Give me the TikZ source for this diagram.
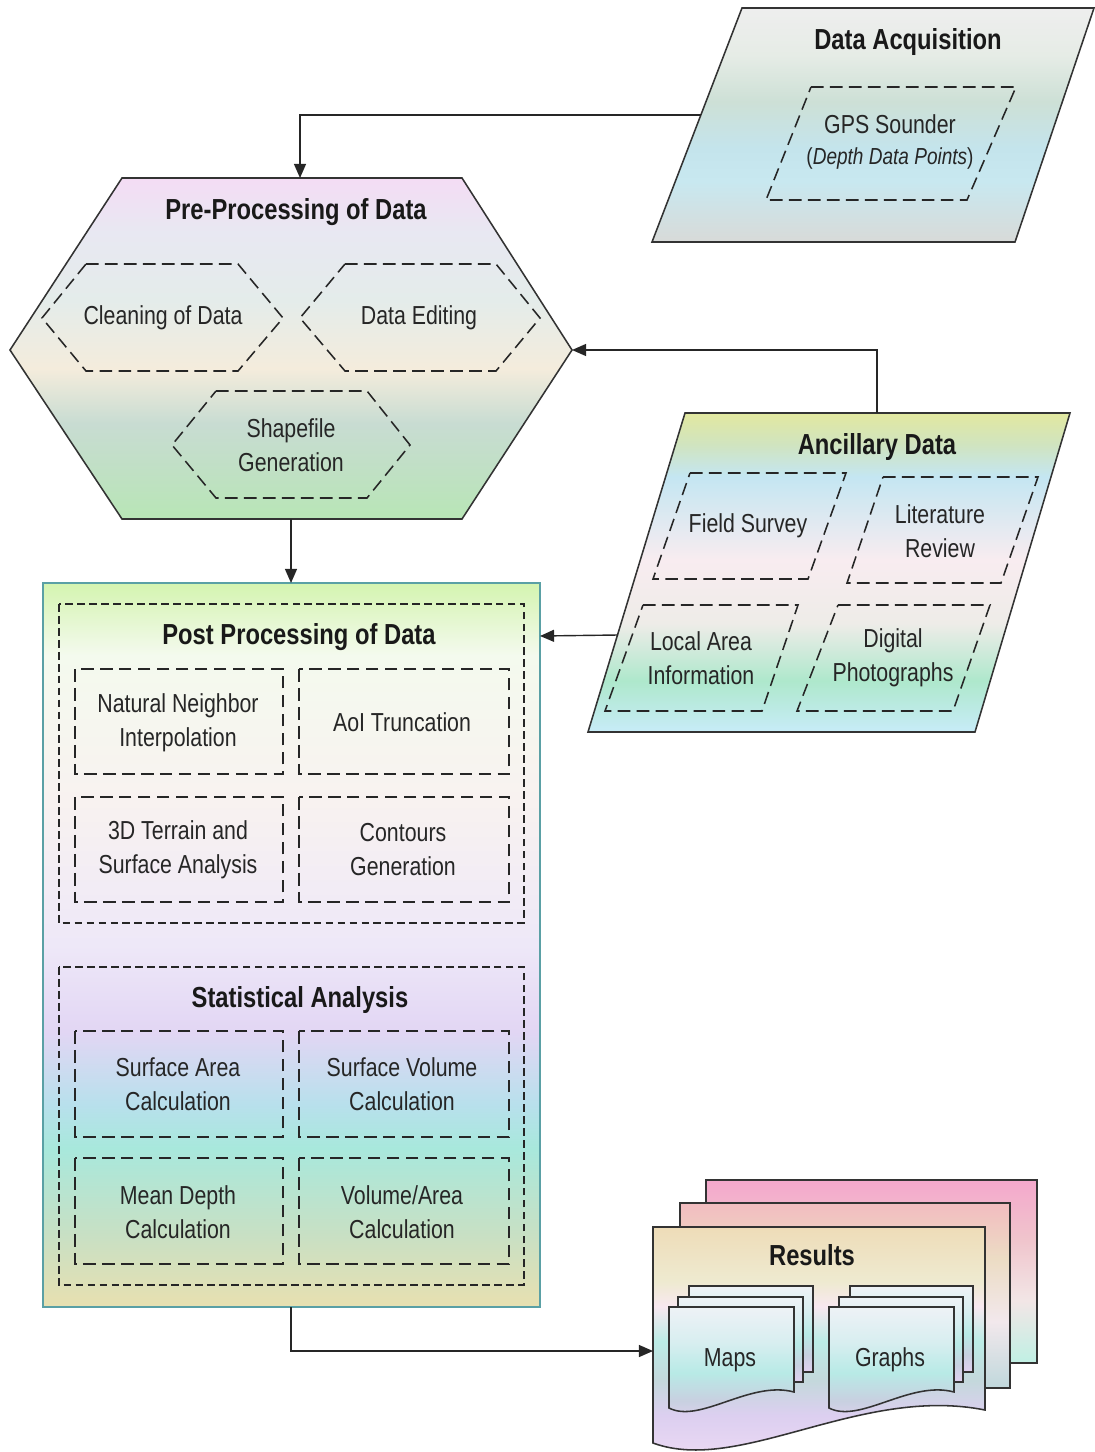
\documentclass[tikz,border=0pt]{standalone}
\usepackage{fontspec}
\setmainfont{Liberation Sans}[FakeStretch=0.82]
\usetikzlibrary{arrows.meta}

% colours of the shaded shapes
\definecolor{acqA}{HTML}{D8DAD8}
\definecolor{acqB}{HTML}{C8E8F0}
\definecolor{acqC}{HTML}{C4E4EC}
\definecolor{acqD}{HTML}{CDE0D6}
\definecolor{acqE}{HTML}{E6ECE6}
\definecolor{acqF}{HTML}{EEEEEE}
\definecolor{preA}{HTML}{B8E6B6}
\definecolor{preB}{HTML}{C0E0C4}
\definecolor{preC}{HTML}{C8DCD2}
\definecolor{preD}{HTML}{F4ECDC}
\definecolor{preE}{HTML}{E4ECEA}
\definecolor{preF}{HTML}{E8E8F2}
\definecolor{preG}{HTML}{F4DCF4}
\definecolor{ancA}{HTML}{C8ECF8}
\definecolor{ancB}{HTML}{AEE8CC}
\definecolor{ancC}{HTML}{EEECE8}
\definecolor{ancD}{HTML}{F8ECF0}
\definecolor{ancE}{HTML}{C4E6F2}
\definecolor{ancF}{HTML}{D0E4C0}
\definecolor{ancG}{HTML}{E2E8A0}
\definecolor{postA}{HTML}{E8E0B0}
\definecolor{postB}{HTML}{C8E0C4}
\definecolor{postC}{HTML}{A8E8DC}
\definecolor{postD}{HTML}{B8E0EC}
\definecolor{postE}{HTML}{E2D6F4}
\definecolor{postF}{HTML}{EEE8F8}
\definecolor{postG}{HTML}{F8F2F0}
\definecolor{postH}{HTML}{F4FAEE}
\definecolor{postI}{HTML}{D4F4B0}
\definecolor{postline}{HTML}{5AA0A5}
\definecolor{backA}{HTML}{C0F0E4}
\definecolor{backB}{HTML}{F2E6E6}
\definecolor{backC}{HTML}{F0C4CC}
\definecolor{backD}{HTML}{F4A8CC}
\definecolor{midA}{HTML}{C0D8DC}
\definecolor{midB}{HTML}{F2E8EC}
\definecolor{midC}{HTML}{ECDCC4}
\definecolor{midD}{HTML}{F2BCC0}
\definecolor{resA}{HTML}{F0DCF4}
\definecolor{resB}{HTML}{DCCFF0}
\definecolor{resC}{HTML}{C4D8DC}
\definecolor{resD}{HTML}{BCECE6}
\definecolor{resE}{HTML}{F8E8F0}
\definecolor{resF}{HTML}{EEEAD0}
\definecolor{resG}{HTML}{EEDCB8}
\definecolor{docA}{HTML}{E0D0F0}
\definecolor{docB}{HTML}{C8D0E0}
\definecolor{docC}{HTML}{B8EAE6}
\definecolor{docD}{HTML}{D8EEF0}
\definecolor{docE}{HTML}{EEF2F6}

\pgfdeclareverticalshading{acqshade}{100bp}{color(0bp)=(acqA); color(25bp)=(acqA);
  color(38bp)=(acqB); color(45bp)=(acqC); color(55bp)=(acqD); color(65bp)=(acqE);
  color(75bp)=(acqF); color(100bp)=(acqF)}
\pgfdeclareverticalshading{preshade}{100bp}{color(0bp)=(preA); color(25bp)=(preA);
  color(32bp)=(preB); color(39bp)=(preC); color(47bp)=(preD); color(57bp)=(preE);
  color(67bp)=(preF); color(75bp)=(preG); color(100bp)=(preG)}
\pgfdeclareverticalshading{ancshade}{100bp}{color(0bp)=(ancA); color(25bp)=(ancA);
  color(33bp)=(ancB); color(42bp)=(ancC); color(52bp)=(ancD); color(65bp)=(ancE);
  color(70bp)=(ancF); color(75bp)=(ancG); color(100bp)=(ancG)}
\pgfdeclareverticalshading{postshade}{100bp}{color(0bp)=(postA); color(25bp)=(postA);
  color(30bp)=(postB); color(36bp)=(postC); color(39bp)=(postD); color(44bp)=(postE);
  color(50bp)=(postF); color(60bp)=(postG); color(70bp)=(postH); color(75bp)=(postI);
  color(100bp)=(postI)}
\pgfdeclareverticalshading{backshade}{100bp}{color(0bp)=(backA); color(25bp)=(backA);
  color(42bp)=(backB); color(59bp)=(backC); color(75bp)=(backD); color(100bp)=(backD)}
\pgfdeclareverticalshading{midshade}{100bp}{color(0bp)=(midA); color(25bp)=(midA);
  color(43bp)=(midB); color(60bp)=(midC); color(75bp)=(midD); color(100bp)=(midD)}
\pgfdeclareverticalshading{resshade}{100bp}{color(0bp)=(resA); color(26bp)=(resA);
  color(37bp)=(resB); color(44bp)=(resC); color(52bp)=(resD); color(59bp)=(resE);
  color(64bp)=(resF); color(75bp)=(resG); color(100bp)=(resG)}
\pgfdeclareverticalshading{docshade}{100bp}{color(0bp)=(docA); color(25bp)=(docA);
  color(35bp)=(docB); color(47bp)=(docC); color(60bp)=(docD); color(75bp)=(docE);
  color(100bp)=(docE)}

\begin{document}
\begin{tikzpicture}[x=0.025cm, y=0.025cm,
    frame/.style={draw=black!80, line width=1.1pt},
    dashbox/.style={draw=black!85, line width=1.1pt, dash pattern=on 9pt off 4.5pt},
    finedash/.style={draw=black!85, line width=0.9pt, dash pattern=on 5.5pt off 3pt},
    title/.style={font=\fontsize{20.6}{24}\selectfont\bfseries, text=black!90},
    label/.style={font=\fontsize{18.5}{24.2}\selectfont, align=center, text=black!85},
    flow/.style={draw=black!85, line width=1pt, -{Triangle[length=10pt,width=8.5pt]}}
]
    \useasboundingbox (0,0) rectangle (1095,-1452);

    % Data Acquisition
    \shadedraw[shading=acqshade, frame] (742,-8) -- (1094,-8) -- (1015,-242) -- (652,-242) -- cycle;
    \draw[dashbox] (811,-87) -- (1016,-87) -- (967,-200) -- (766,-200) -- cycle;
    \node[title] (acqTitle) at (908,-42) {Data Acquisition};
    \node[label, font=\fontsize{18.5}{21.5}\selectfont] (gps) at (890,-142)
        {GPS Sounder\\{\fontsize{16.5}{21.5}\selectfont(\textit{Depth Data Points})}};

    % Pre-Processing of Data
    \shadedraw[shading=preshade, frame] (122,-178) -- (462,-178) -- (572,-350)
        -- (462,-519) -- (122,-519) -- (10,-350) -- cycle;
    \draw[dashbox] (86,-264) -- (238,-264) -- (283,-318) -- (238,-371) -- (86,-371) -- (42,-318) -- cycle;
    \draw[dashbox] (345,-264) -- (496,-264) -- (540,-318) -- (496,-371) -- (345,-371) -- (300,-318) -- cycle;
    \draw[dashbox] (216,-391) -- (367,-391) -- (410,-445) -- (367,-498) -- (216,-498) -- (172,-445) -- cycle;
    \node[title] (preTitle) at (296,-212) {Pre-Processing of Data};
    \node[label] (cleaning) at (163,-318) {Cleaning of Data};
    \node[label] (editing) at (419,-318) {Data Editing};
    \node[label] (shapefile) at (291,-445) {Shapefile\\Generation};

    % Ancillary Data
    \shadedraw[shading=ancshade, frame] (685,-413) -- (1070,-413) -- (975,-732) -- (588,-732) -- cycle;
    \draw[dashbox] (690,-473) -- (846,-473) -- (808,-579) -- (653,-579) -- cycle;
    \draw[dashbox] (883,-477) -- (1038,-477) -- (1001,-583) -- (847,-583) -- cycle;
    \draw[dashbox] (643,-605) -- (798,-605) -- (762,-711) -- (605,-711) -- cycle;
    \draw[dashbox] (838,-605) -- (990,-605) -- (953,-711) -- (797,-711) -- cycle;
    \node[title] (ancTitle) at (877,-447) {Ancillary Data};
    \node[label] (field) at (748,-526) {Field Survey};
    \node[label] (literature) at (940,-531) {Literature\\Review};
    \node[label] (local) at (701,-658) {Local Area\\Information};
    \node[label] (digital) at (893,-658) {Digital\\Photographs};

    % Post Processing and Statistical Analysis
    \shadedraw[shading=postshade, draw=postline, line width=1.1pt] (43,-583) rectangle (540,-1307);
    \draw[finedash] (59,-604) rectangle (524,-923);
    \draw[dashbox] (75,-669) rectangle (283,-774);
    \draw[dashbox] (299,-669) rectangle (509,-774);
    \draw[dashbox] (75,-797) rectangle (283,-902);
    \draw[dashbox] (299,-797) rectangle (509,-902);
    \node[title] (postTitle) at (299,-637) {Post Processing of Data};
    \node[label] (natural) at (178,-723) {Natural Neighbor\\Interpolation};
    \node[label] (aoi) at (402,-722) {AoI Truncation};
    \node[label] (terrain) at (178,-850) {3D Terrain and\\Surface Analysis};
    \node[label] (contours) at (403,-850) {Contours\\Generation};
    \draw[finedash] (59,-967) rectangle (524,-1285);
    \draw[dashbox] (75,-1031) rectangle (283,-1137);
    \draw[dashbox] (299,-1031) rectangle (509,-1137);
    \draw[dashbox] (75,-1158) rectangle (283,-1264);
    \draw[dashbox] (299,-1158) rectangle (509,-1264);
    \node[title] (statTitle) at (300,-1000) {Statistical Analysis};
    \node[label] (area) at (178,-1084) {Surface Area\\Calculation};
    \node[label] (volume) at (402,-1084) {Surface Volume\\Calculation};
    \node[label] (depth) at (178,-1212) {Mean Depth\\Calculation};
    \node[label] (ratio) at (402,-1212) {Volume/Area\\Calculation};

    % Results
    \shadedraw[shading=backshade, frame] (706,-1180) rectangle (1037,-1363);
    \shadedraw[shading=midshade, frame] (680,-1203) rectangle (1010,-1388);
    \shadedraw[shading=resshade, frame] (653,-1227) -- (985,-1227) -- (985,-1410)
        .. controls (860,-1385) and (740,-1475) .. (653,-1443) -- cycle;
    \shadedraw[shading=docshade, frame] (689,-1286) rectangle (813,-1372);
    \shadedraw[shading=docshade, frame] (678,-1297) rectangle (803,-1382);
    \shadedraw[shading=docshade, frame] (669,-1307) -- (794,-1307) -- (794,-1392)
        .. controls (750,-1380) and (700,-1424) .. (669,-1408) -- cycle;
    \shadedraw[shading=docshade, frame] (850,-1286) rectangle (973,-1372);
    \shadedraw[shading=docshade, frame] (839,-1297) rectangle (963,-1382);
    \shadedraw[shading=docshade, frame] (829,-1307) -- (954,-1307) -- (954,-1392)
        .. controls (910,-1380) and (860,-1424) .. (829,-1408) -- cycle;
    \node[title] (resTitle) at (812,-1255) {Results};
    \node[label] (maps) at (730,-1360) {Maps};
    \node[label] (graphs) at (890,-1360) {Graphs};

    % connector ends on the shape borders
    \coordinate (acqW) at (701,-115);
    \coordinate (preN) at (300,-178);
    \coordinate (preE) at (572,-350);
    \coordinate (preS) at (291,-519);
    \coordinate (ancN) at (877,-413);
    \coordinate (ancW) at (618,-635);
    \coordinate (postN) at (291,-583);
    \coordinate (postE) at (540,-636);
    \coordinate (postS) at (291,-1307);
    \coordinate (resW) at (653,-1351);

    \draw[flow] (acqW) -| (preN);
    \draw[flow] (ancN) |- (preE);
    \draw[flow] (preS) -- (postN);
    \draw[flow] (ancW) -- (postE);
    \draw[flow] (postS) |- (resW);
\end{tikzpicture}
\end{document}
